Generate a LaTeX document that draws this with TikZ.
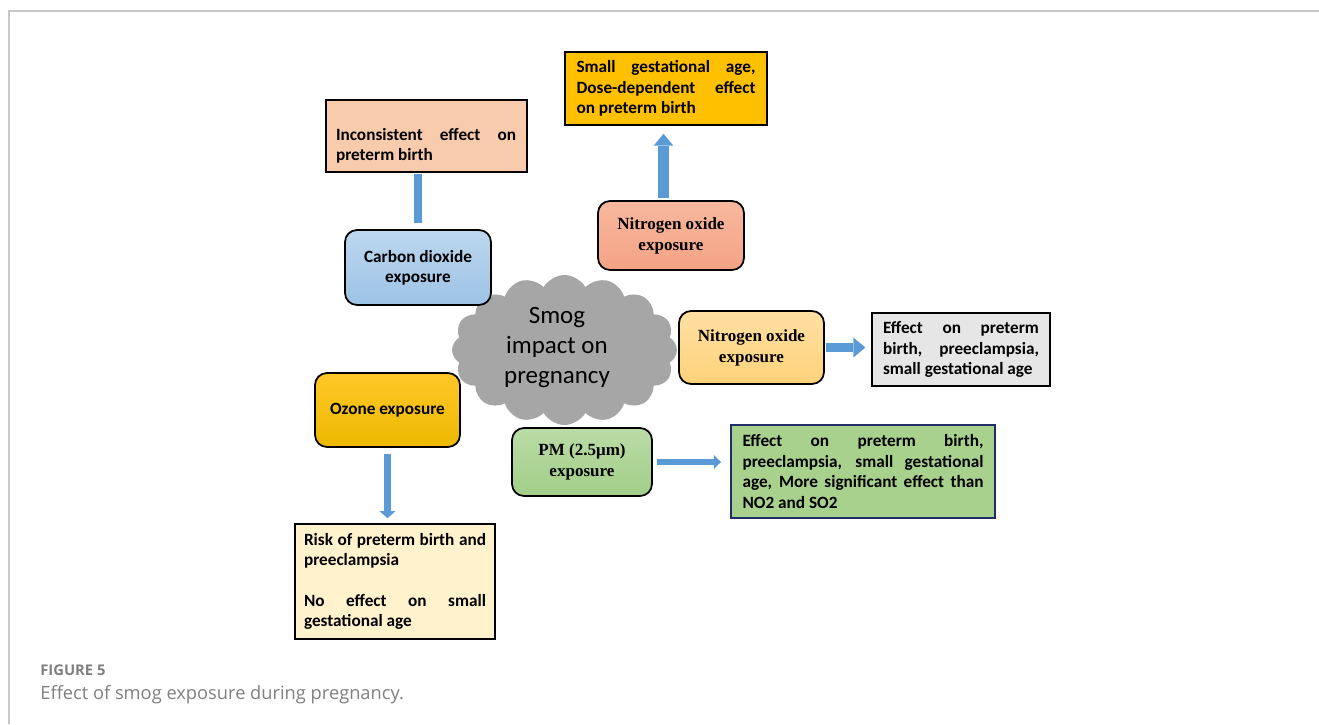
\documentclass[tikz,border=0pt]{standalone}
\usepackage{fontspec}
\setmainfont{Carlito}
\newfontfamily\serifbf{Liberation Serif}
\newfontfamily\capfont{Open Sans}
\usetikzlibrary{shapes.symbols,arrows.meta}
\hyphenpenalty=10000\relax
\exhyphenpenalty=10000\relax
\definecolor{arrowblue}{HTML}{5B9BD5}
\definecolor{framegray}{HTML}{C8C8C8}
\definecolor{gold}{HTML}{FFC000}
\definecolor{peach}{HTML}{F8CBAD}
\definecolor{cotop}{HTML}{BDD7EE}
\definecolor{cobot}{HTML}{9DC3E6}
\definecolor{notop}{HTML}{F8B89E}
\definecolor{nobot}{HTML}{F4A385}
\definecolor{nrtop}{HTML}{FFE0A3}
\definecolor{nrbot}{HTML}{FFD27A}
\definecolor{lgray}{HTML}{E7E6E6}
\definecolor{oztop}{HTML}{FFC828}
\definecolor{ozbot}{HTML}{EDB900}
\definecolor{pmtop}{HTML}{BADCA6}
\definecolor{pmbot}{HTML}{A2CE88}
\definecolor{lgreen}{HTML}{A9D18E}
\definecolor{navy}{HTML}{1F2E6B}
\definecolor{cream}{HTML}{FFF2CC}
\definecolor{cloudgray}{HTML}{A6A6A6}
\definecolor{capgray}{HTML}{7F7F7F}
\begin{document}
\begin{tikzpicture}[x=0.02cm,y=-0.02cm,
  boxfont/.style={font=\fontsize{9.8pt}{11.6pt}\selectfont\bfseries},
  box/.style={draw=black, line width=1pt, inner sep=0pt, boxfont},
  jbox/.style={box, align=justify},
  rbox/.style={box, rounded corners=0.24cm, align=center},
  serifbox/.style={rbox, font=\serifbf\bfseries\fontsize{9.7pt}{11.9pt}\selectfont},
  flow/.style={draw=arrowblue, color=arrowblue},
]
\useasboundingbox (0,0) rectangle (1319,724);
\draw[framegray, line width=0.9pt] (1319,11) -- (9,11) -- (9,724);

% cloud
\node[cloud, cloud puffs=16, cloud puff arc=120, cloud ignores aspect,
      minimum width=4.5cm, minimum height=3cm, fill=cloudgray, inner sep=0pt] (cloud) at (564.5,350) {};
\node[font=\fontsize{14.2pt}{17.3pt}\selectfont, align=center, inner sep=0pt] (smog) at (557,347.5) {Smog\\impact on\\pregnancy};

% boxes
\node[jbox, fill=gold, minimum width=4.04cm, minimum height=1.46cm, text width=3.58cm] (sga) at (666,88.5)
  {Small gestational age, Dose-dependent effect on preterm birth};
\node[box, fill=peach, minimum width=4.02cm, minimum height=1.44cm] (inc) at (426.5,136) {};
\node[boxfont, align=justify, text width=3.6cm, inner sep=0pt] (inctxt) at (426,145.5)
  {Inconsistent effect on preterm birth};
\node[rbox, top color=cotop, bottom color=cobot, minimum width=2.92cm, minimum height=1.5cm] (co2) at (418,267.5)
  {Carbon dioxide\\exposure};
\node[serifbox, top color=notop, bottom color=nobot, minimum width=2.92cm, minimum height=1.38cm] (no1) at (671,235.5)
  {Nitrogen oxide\\exposure};
\node[serifbox, top color=nrtop, bottom color=nrbot, minimum width=2.9cm, minimum height=1.46cm] (no2) at (751.5,347.5)
  {Nitrogen oxide\\exposure};
\node[jbox, fill=lgray, minimum width=3.55cm, minimum height=1.46cm, text width=3.12cm] (eff) at (961,349.5)
  {Effect on preterm birth, preeclampsia, small gestational age};
\node[rbox, top color=oztop, bottom color=ozbot, minimum width=2.9cm, minimum height=1.48cm] (oz) at (387.5,410)
  {Ozone exposure};
\node[serifbox, top color=pmtop, bottom color=pmbot, minimum width=2.8cm, minimum height=1.36cm] (pm) at (582,462)
  {PM (2.5μm)\\exposure};
\node[jbox, draw=navy, line width=1.2pt, fill=lgreen, minimum width=5.28cm, minimum height=1.86cm, text width=4.82cm] (pmeff) at (863,471.5)
  {Effect on preterm birth,\linebreak preeclampsia, small gestational\linebreak age, More significant effect than NO2 and SO2};
\node[jbox, fill=cream, minimum width=4.0cm, minimum height=2.3cm, text width=3.64cm] (risk) at (395,581.5)
  {Risk of preterm birth and preeclampsia\\[11.6pt]No effect on small\linebreak gestational age};

% connectors
\draw[flow, line width=4.5pt, shorten <=0.6pt, shorten >=3.4pt] (inc.south -| co2.north) -- (co2.north);
\draw[flow, line width=6.2pt, -{Triangle[width=11.3pt,length=6.8pt,line width=0pt]}, shorten <=1.1pt, shorten >=4.5pt]
  ([xshift=-0.15cm]no1.north) -- ([xshift=-0.15cm]no1.north |- sga.south);
\draw[flow, line width=5.1pt, -{Triangle[width=11.3pt,length=6.8pt,line width=0pt]}, shorten <=0.6pt, shorten >=3.4pt]
  (no2.east) -- (no2.east -| eff.west);
\draw[flow, line width=3.8pt, -{Triangle[width=7.9pt,length=4pt,line width=0pt]}, shorten <=2.3pt, shorten >=5.1pt]
  (pm.east) -- (pm.east -| pmeff.west);
\draw[flow, line width=4pt, -{Triangle[width=9pt,length=4pt,line width=0pt]}, shorten <=3.4pt, shorten >=2.8pt]
  (oz.south) -- (oz.south |- risk.north);

% caption
\node[anchor=base west, inner sep=0pt, text=capgray, font=\capfont\bfseries\fontsize{8.4pt}{10pt}\selectfont] (fig) at (40,675) {FIGURE 5};
\node[anchor=base west, inner sep=0pt, text=capgray, font=\capfont\fontsize{10.4pt}{12pt}\selectfont] (cap) at (40,699) {Effect of smog exposure during pregnancy.};
\end{tikzpicture}
\end{document}
